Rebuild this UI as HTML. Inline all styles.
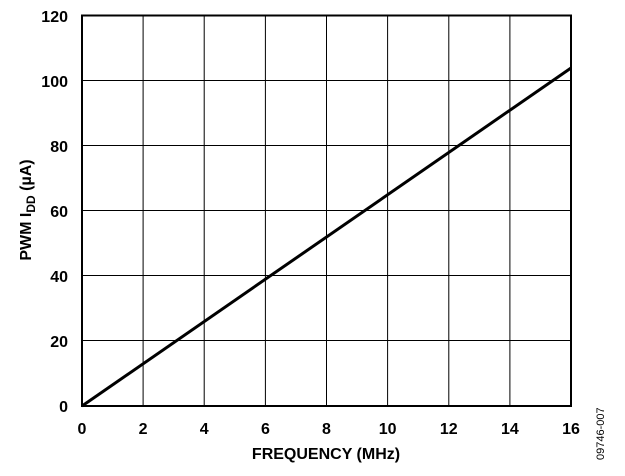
<!DOCTYPE html>
<html><head><meta charset="utf-8"><style>body{margin:0;background:#fff}</style></head><body>
<svg width="625" height="471" xmlns="http://www.w3.org/2000/svg" font-family="Liberation Sans, Arial, sans-serif" font-weight="bold">
<g stroke="#000" stroke-width="1">
<line x1="143.1" y1="15.5" x2="143.1" y2="406"/>
<line x1="204.2" y1="15.5" x2="204.2" y2="406"/>
<line x1="265.4" y1="15.5" x2="265.4" y2="406"/>
<line x1="326.5" y1="15.5" x2="326.5" y2="406"/>
<line x1="387.6" y1="15.5" x2="387.6" y2="406"/>
<line x1="448.8" y1="15.5" x2="448.8" y2="406"/>
<line x1="509.9" y1="15.5" x2="509.9" y2="406"/>
<line x1="82" y1="80.5" x2="571" y2="80.5"/>
<line x1="82" y1="145.5" x2="571" y2="145.5"/>
<line x1="82" y1="210.5" x2="571" y2="210.5"/>
<line x1="82" y1="275.5" x2="571" y2="275.5"/>
<line x1="82" y1="340.5" x2="571" y2="340.5"/>
</g>
<rect x="82" y="15.5" width="489" height="390.5" fill="none" stroke="#000" stroke-width="2"/>
<line x1="82" y1="406" x2="571" y2="68" stroke="#000" stroke-width="3"/>
<g font-size="16" text-anchor="end">
<text x="68" y="22">120</text><text x="68" y="87">100</text><text x="68" y="152">80</text>
<text x="68" y="217">60</text><text x="68" y="282">40</text><text x="68" y="347">20</text><text x="68" y="412">0</text>
</g>
<g font-size="16" text-anchor="middle">
<text x="82" y="434">0</text><text x="143.1" y="434">2</text><text x="204.2" y="434">4</text><text x="265.4" y="434">6</text>
<text x="326.5" y="434">8</text><text x="387.6" y="434">10</text><text x="448.8" y="434">12</text><text x="509.9" y="434">14</text><text x="571" y="434">16</text>
</g>
<text x="326" y="459" font-size="16" text-anchor="middle">FREQUENCY (MHz)</text>
<text transform="translate(31,210) rotate(-90)" font-size="16" text-anchor="middle">PWM I<tspan font-size="12" dy="4">DD</tspan><tspan dy="-4"> (µA)</tspan></text>
<text transform="translate(604,460) rotate(-90)" font-size="11" font-weight="normal">09746-007</text>
</svg>
</body></html>
